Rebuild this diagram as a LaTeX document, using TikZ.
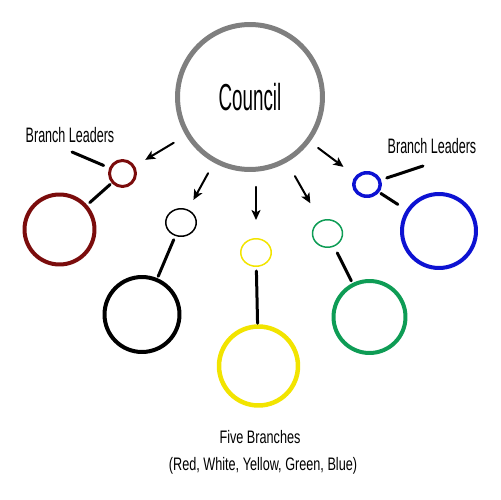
\documentclass[tikz,border=0pt]{standalone}
\usepackage{fontspec}
\usetikzlibrary{positioning, arrows.meta, shapes.geometric}
\newfontfamily\councilfont{Liberation Sans}[FakeStretch=0.5]
\newfontfamily\leaderfont{Liberation Sans}[FakeStretch=0.6]
\newfontfamily\notefont{Liberation Sans}[FakeStretch=0.7]
\definecolor{cgray}{HTML}{7F7F7F}
\definecolor{cred}{HTML}{7B0C0C}
\definecolor{cyellow}{HTML}{F2E400}
\definecolor{cgreen}{HTML}{0E9C55}
\definecolor{cblue}{HTML}{0D12D2}

\begin{document}
\begin{tikzpicture}[
  x=0.02cm, y=-0.02cm,
  line cap=round, line join=round,
  >={Stealth[length=0.2cm, width=0.18cm, inset=0.05cm]},
  big/.style   = {draw, circle, inner sep=0pt, line width=0.08cm, minimum size=1.45cm},
  small/.style = {draw, ellipse, inner sep=0pt, line width=0.03cm,
                  minimum width=0.61cm, minimum height=0.55cm},
  link/.style  = {draw=black, line width=0.06cm},
  arr/.style   = {->, draw=black, line width=0.04cm},
  lead/.style  = {font=\leaderfont\fontsize{11.9}{13}\selectfont, inner sep=0pt}
]
\useasboundingbox (0,0) rectangle (500,500);

% council
\node[draw=cgray, circle, line width=0.1cm, minimum size=2.9cm, inner sep=0pt,
      font=\councilfont\fontsize{21.4}{24}\selectfont] (council) at (250,97) {Council};

% leaders (small) and branches (big)
\node[small, draw=cred, line width=0.06cm, minimum width=0.52cm, minimum height=0.52cm] (redS) at (122.5,173.5) {};
\node[big, draw=cred, minimum size=1.4cm] (redB) at (59.5,229.5) {};
\node[small] (whiteS) at (181,222.5) {};
\node[big, minimum size=1.5cm] (whiteB) at (142,314.5) {};
\node[small, draw=cyellow] (yellowS) at (256,252.5) {};
\node[big, draw=cyellow, line width=0.09cm, minimum size=1.58cm] (yellowB) at (258.5,366) {};
\node[small, draw=cgreen, minimum width=0.6cm] (greenS) at (327.5,233.5) {};
\node[big, draw=cgreen, minimum size=1.44cm] (greenB) at (369.5,317) {};
\node[small, draw=cblue, line width=0.07cm, minimum width=0.53cm, minimum height=0.47cm] (blueS) at (367,184.5) {};
\node[big, draw=cblue, minimum size=1.48cm] (blueB) at (439,231) {};

% labels
\node[lead] (leadL) at (70,135.5) {Branch Leaders};
\node[lead] (leadR) at (432,146) {Branch Leaders};
\node[font=\notefont\fontsize{10.3}{12}\selectfont, inner sep=0pt] (five) at (260,437) {Five Branches};
\node[font=\notefont\fontsize{10.3}{12}\selectfont, inner sep=0pt] (colours) at (263,466) {(Red, White, Yellow, Green, Blue)};
\coordinate (tagL) at (72,152);
\coordinate (tagR) at (423,166);

% council -> leaders
\draw[arr, shorten <=0.28cm, shorten >=0.24cm] (council) -- (redS);
\draw[arr, shorten <=0.24cm, shorten >=0.22cm] (council) -- (whiteS);
\draw[arr, shorten <=0.3cm, shorten >=0.36cm] (council.south -| yellowS.north) -- (yellowS.north);
\draw[arr, shorten <=0.32cm, shorten >=0.4cm] (council) -- (greenS);
\draw[arr, shorten <=0.2cm, shorten >=0.3cm] (council) -- (blueS);

% leader -> branch
\draw[link, shorten <=0.04cm, shorten >=0.07cm] (redS) -- (redB);
\draw[link, shorten <=0.08cm, shorten >=0.04cm] (whiteS) -- (whiteB);
\draw[link, shorten <=0.08cm, shorten >=0.02cm] (yellowS) -- (yellowB);
\draw[link, shorten <=0.14cm, shorten >=0.05cm] (greenS) -- (greenB);
\draw[link, shorten <=0.04cm, shorten >=0.2cm] (blueS) -- (blueB);

% label ticks
\draw[link, shorten >=0.12cm] (tagL) -- (redS);
\draw[link, shorten >=0.12cm] (tagR) -- (blueS);

\end{tikzpicture}
\end{document}
